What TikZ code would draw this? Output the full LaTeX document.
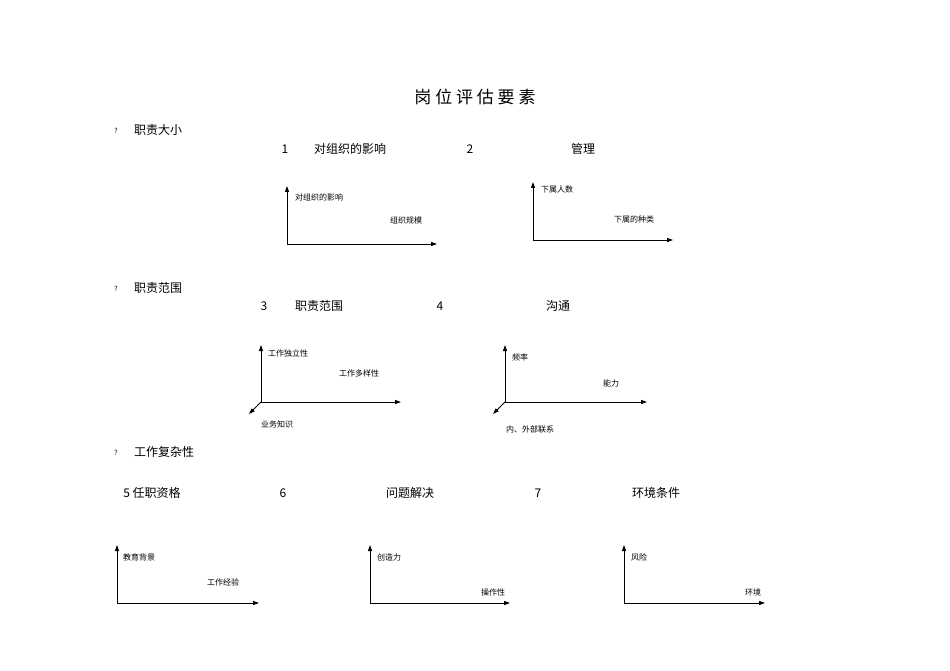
\documentclass[tikz,border=0pt]{standalone}
\usepackage{fontspec}
\setmainfont{Noto Sans CJK SC}
\usetikzlibrary{arrows.meta}
\begin{document}
\begin{tikzpicture}[x=1pt,y=-1pt,
  ax/.style={-{Triangle[length=6pt,width=4pt]},line width=0.9pt},
  big/.style={font=\fontsize{12}{12}\selectfont,inner sep=0},
  sm/.style={font=\fontsize{8}{8}\selectfont,inner sep=0,anchor=west},
  q/.style={font=\fontsize{7}{7}\selectfont,inner sep=0}]
\useasboundingbox (0,0) rectangle (950,671);
\node[inner sep=0,font=\fontsize{17}{17}\selectfont] (title) at (475,97) {岗 位 评 估 要 素};
% sections
\node[q] (q1) at (116,131) {?}; \node[big] (s1) at (158,130) {职责大小};
\node[q] (q2) at (116,289) {?}; \node[big] (s2) at (158,288) {职责范围};
\node[q] (q3) at (116,453) {?}; \node[big] (s3) at (164,452) {工作复杂性};
% headings
\node[big] (h1n) at (285,149) {1}; \node[big] (h1) at (350,149) {对组织的影响};
\node[big] (h2n) at (470,149) {2}; \node[big] (h2) at (583,149) {管理};
\node[big] (h3n) at (264,306) {3}; \node[big] (h3) at (319,306) {职责范围};
\node[big] (h4n) at (440,306) {4}; \node[big] (h4) at (558,306) {沟通};
\node[big] (h5) at (152,493) {5 任职资格};
\node[big] (h6n) at (283,493) {6}; \node[big] (h6) at (410,493) {问题解决};
\node[big] (h7n) at (538,493) {7}; \node[big] (h7) at (656,493) {环境条件};
% chart 1
\coordinate (o1) at (287,244); \coordinate (u1) at (287,186); \coordinate (r1) at (437,244);
\draw[ax] (o1)--(u1); \draw[ax] (o1)--(r1);
\node[sm] (l1a) at (295,197) {对组织的影响}; \node[sm] (l1b) at (390,220) {组织规模};
% chart 2
\coordinate (o2) at (533,240); \coordinate (u2) at (533,182); \coordinate (r2) at (673,240);
\draw[ax] (o2)--(u2); \draw[ax] (o2)--(r2);
\node[sm] (l2a) at (541,189) {下属人数}; \node[sm] (l2b) at (614,219) {下属的种类};
% chart 3
\coordinate (o3) at (261,402); \coordinate (u3) at (261,345); \coordinate (r3) at (401,402); \coordinate (d3) at (249,414);
\draw[ax] (o3)--(u3); \draw[ax] (o3)--(r3); \draw[ax] (o3)--(d3);
\node[sm] (l3a) at (268,353) {工作独立性}; \node[sm] (l3b) at (339,373) {工作多样性}; \node[sm] (l3c) at (261,424) {业务知识};
% chart 4
\coordinate (o4) at (505,402); \coordinate (u4) at (505,345); \coordinate (r4) at (647,402); \coordinate (d4) at (493,414);
\draw[ax] (o4)--(u4); \draw[ax] (o4)--(r4); \draw[ax] (o4)--(d4);
\node[sm] (l4a) at (512,357) {频率}; \node[sm] (l4b) at (603,383) {能力}; \node[sm] (l4c) at (506,429) {内、外部联系};
% chart 5
\coordinate (o5) at (117,603); \coordinate (u5) at (117,545); \coordinate (r5) at (259,603);
\draw[ax] (o5)--(u5); \draw[ax] (o5)--(r5);
\node[sm] (l5a) at (123,557) {教育背景}; \node[sm] (l5b) at (207,582) {工作经验};
% chart 6
\coordinate (o6) at (370,603); \coordinate (u6) at (370,545); \coordinate (r6) at (510,603);
\draw[ax] (o6)--(u6); \draw[ax] (o6)--(r6);
\node[sm] (l6a) at (377,557) {创造力}; \node[sm] (l6b) at (481,592) {操作性};
% chart 7
\coordinate (o7) at (624,603); \coordinate (u7) at (624,545); \coordinate (r7) at (765,603);
\draw[ax] (o7)--(u7); \draw[ax] (o7)--(r7);
\node[sm] (l7a) at (631,557) {风险}; \node[sm] (l7b) at (745,592) {环境};
\end{tikzpicture}
\end{document}
